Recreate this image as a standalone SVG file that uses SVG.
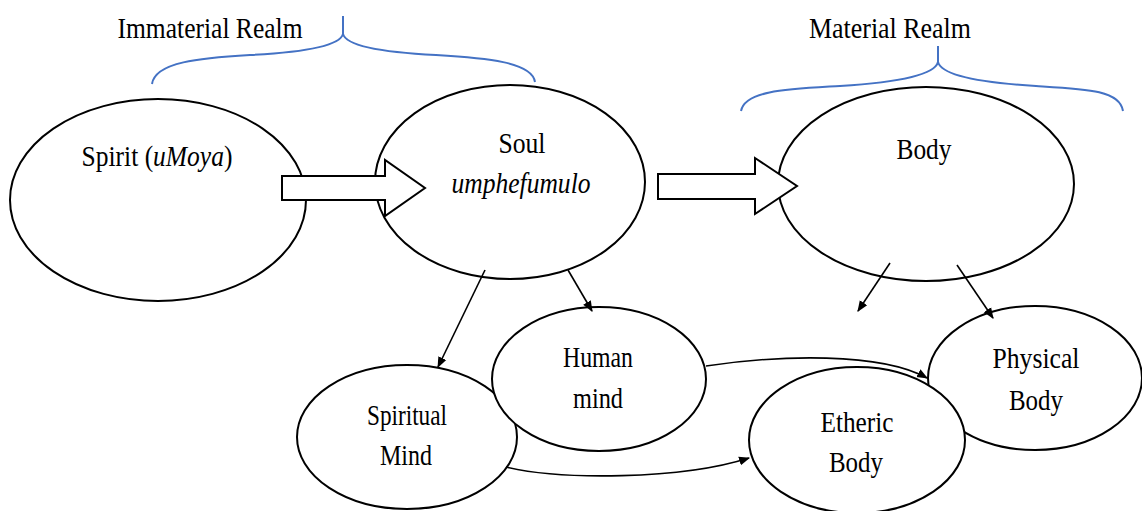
<svg xmlns="http://www.w3.org/2000/svg" width="1142" height="511" viewBox="0 0 1142 511">
<defs>
<marker id="ah" viewBox="0 0 10 10" refX="9" refY="5" markerWidth="11" markerHeight="11" markerUnits="userSpaceOnUse" orient="auto"><path d="M0,1 L10,5 L0,9 z" fill="#000"/></marker>
<style>
.n{fill:#fff;stroke:#000;stroke-width:2}
.t{font-family:"Liberation Serif","Times New Roman",serif;font-size:30px;fill:#000;text-anchor:middle}
.br{fill:none;stroke:#4472C4;stroke-width:2}
.c{fill:none;stroke:#000;stroke-width:1.6;marker-end:url(#ah)}
.blk{fill:#fff;stroke:#000;stroke-width:2;stroke-linejoin:miter}
</style>
</defs>
<rect width="1142" height="511" fill="#fff"/>
<g id="braces">
<path class="br" d="M152,84 C155,62 200,58 250,55 C310,52 340,45 343,34 L343,16 M343,34 C346,45 376,52 436,55 C486,58 532,62 535,82"/>
<path class="br" d="M741,111 C745,90 790,89 840,86 C905,82 935,74 938,62 L938,46 M938,62 C941,74 971,82 1036,86 C1086,89 1120,90 1123,111"/>
<text class="t" x="210" y="38" textLength="185" lengthAdjust="spacingAndGlyphs">Immaterial Realm</text>
<text class="t" x="890" y="38" textLength="162" lengthAdjust="spacingAndGlyphs">Material Realm</text>
</g>
<g id="spirit">
<ellipse class="n" cx="158" cy="200" rx="148" ry="101"/>
<text class="t" transform="translate(157,166) scale(0.85,1)" x="0" y="0">Spirit (<tspan font-style="italic">uMoya</tspan>)</text>
</g>
<g id="soul">
<ellipse class="n" cx="510" cy="182" rx="135" ry="97"/>
<text class="t" x="522" y="153" textLength="47" lengthAdjust="spacingAndGlyphs">Soul</text>
<text class="t" x="521" y="193" font-style="italic" textLength="139" lengthAdjust="spacingAndGlyphs">umphefumulo</text>
</g>
<g id="body">
<ellipse class="n" cx="926" cy="184" rx="148" ry="97"/>
<text class="t" x="924" y="159" textLength="55" lengthAdjust="spacingAndGlyphs">Body</text>
</g>
<g id="flow-arrows">
<polygon class="blk" points="282,176 385,176 385,160 425,188 385,216 385,200 282,200"/>
<polygon class="blk" points="658,174 755,174 755,158 797,186 755,214 755,199 658,199"/>
</g>
<g id="spiritual-mind">
<ellipse class="n" cx="407" cy="437" rx="110" ry="72"/>
<text class="t" x="407" y="425" textLength="80" lengthAdjust="spacingAndGlyphs">Spiritual</text>
<text class="t" x="406" y="465" textLength="52" lengthAdjust="spacingAndGlyphs">Mind</text>
</g>
<g id="human-mind">
<ellipse class="n" cx="599" cy="379" rx="107" ry="72"/>
<text class="t" x="598" y="367" textLength="70" lengthAdjust="spacingAndGlyphs">Human</text>
<text class="t" x="598" y="408" textLength="50" lengthAdjust="spacingAndGlyphs">mind</text>
</g>
<g id="physical-body">
<ellipse class="n" cx="1035" cy="378" rx="107" ry="72"/>
<text class="t" x="1036" y="368" textLength="87" lengthAdjust="spacingAndGlyphs">Physical</text>
<text class="t" x="1036" y="410" textLength="54" lengthAdjust="spacingAndGlyphs">Body</text>
</g>
<g id="etheric-body">
<ellipse class="n" cx="857" cy="440" rx="108" ry="73"/>
<text class="t" x="857" y="432" textLength="73" lengthAdjust="spacingAndGlyphs">Etheric</text>
<text class="t" x="856" y="472" textLength="54" lengthAdjust="spacingAndGlyphs">Body</text>
</g>
<g id="connectors">
<path class="c" d="M485,270 L438,367"/>
<path class="c" d="M568,270 L592,311"/>
<path class="c" d="M890,263 L858,311"/>
<path class="c" d="M957,265 L993,318"/>
<path class="c" d="M706,366 C780,355 880,352 927,378"/>
<path class="c" d="M506,467 C560,480 680,480 749,458"/>
</g>
</svg>
